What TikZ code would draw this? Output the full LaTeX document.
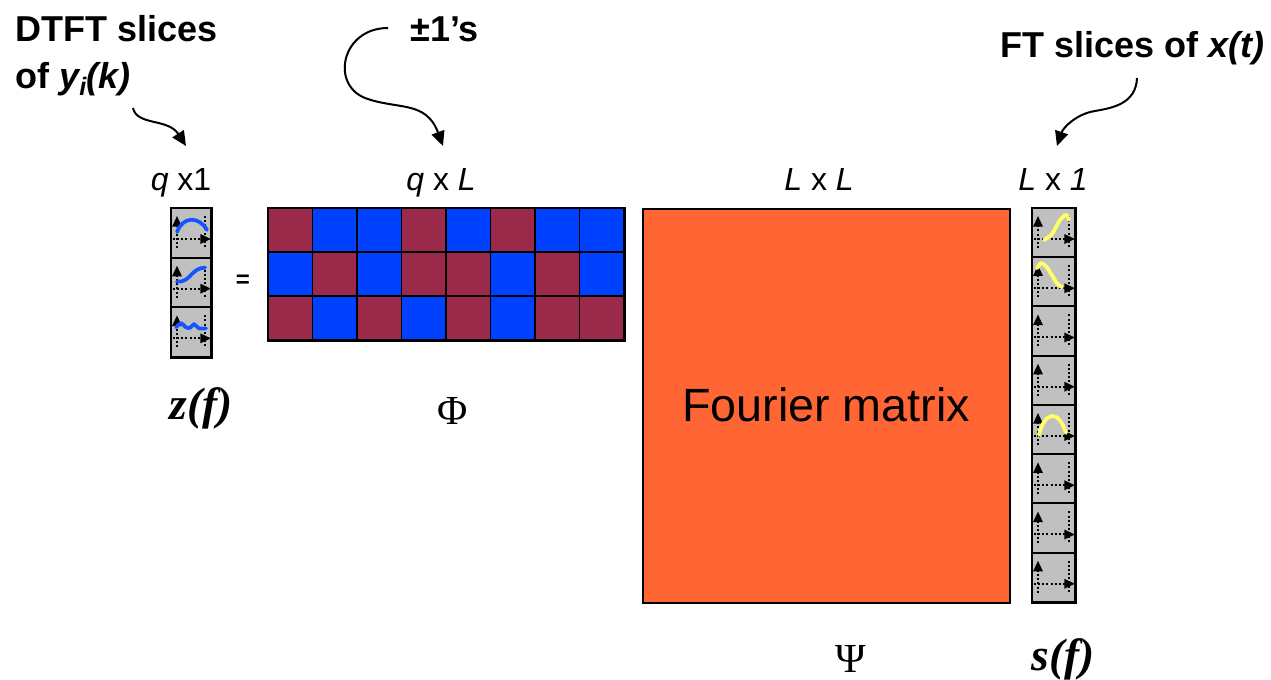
\documentclass[tikz,border=0pt]{standalone}
\usepackage{fontspec}
\setmainfont{Liberation Sans}
\newfontfamily\timesfam{Liberation Serif}
\usetikzlibrary{arrows.meta}

\definecolor{cell1}{RGB}{155,41,74}
\definecolor{cell0}{RGB}{0,64,255}
\definecolor{fourierorange}{RGB}{255,102,51}
\definecolor{slicegray}{RGB}{192,192,192}
\definecolor{curveblue}{RGB}{20,85,255}
\definecolor{curveyellow}{RGB}{255,255,102}

% dotted axes of one spectrum slice, placed at the cell's top-left corner
\newcommand\axesicon[3]{%
  \begin{scope}[shift={(#1,#2)}]
    \draw[axisline,-{Triangle[length=8pt,width=7pt]}] (6,40) -- (6,8);
    \draw[axisline,-{Triangle[length=8pt,width=7pt]}] (2,31) -- (#3,31);
    \draw[axisline] (#3-6,8) -- (#3-6,40);
  \end{scope}}

\begin{document}
\begin{tikzpicture}[x=0.75pt,y=-0.75pt,
  boldlabel/.style={font=\fontsize{27}{33}\selectfont\bfseries,inner sep=0pt},
  dimlabel/.style={font=\fontsize{24}{29}\selectfont,inner sep=0pt,anchor=base},
  symlabel/.style={font=\fontsize{34}{40}\selectfont\timesfam\bfseries\itshape,inner sep=0pt,anchor=base},
  greeklabel/.style={font=\fontsize{31}{37}\selectfont\timesfam,inner sep=0pt,anchor=base},
  callout/.style={line width=1.5pt,-{Triangle[length=11pt,width=10pt]}},
  axisline/.style={line width=1.5pt,dash pattern=on 1.5pt off 1.6pt},
  slicecell/.style={fill=slicegray,draw=black,line width=1.5pt},
  bluecurve/.style={draw=curveblue,line width=2.8pt,line cap=round},
  yellowcurve/.style={draw=curveyellow,line width=2.8pt,line cap=round},
  matcell/.style={draw=black,line width=1.2pt},
]
\useasboundingbox (0,0) rectangle (1271,680);

% ---------- callout texts ----------
\node[boldlabel,anchor=base west] (dtft) at (15,42) {DTFT slices};
\node[boldlabel,anchor=base west] (ofy) at (15,89)
  {of \textit{y\textsubscript{\textit{i}}(k)}};
\node[boldlabel,anchor=base west] (pm) at (410,42) {±1’s};
\node[boldlabel,anchor=base west] (ft) at (1000,58) {FT slices of \textit{x(t)}};

% ---------- dimension labels ----------
\node[dimlabel] (dimz) at (181,191) {\textit{q} x1};
\node[dimlabel] (dimphi) at (441,191) {\textit{q} x \textit{L}};
\node[dimlabel] (dimpsi) at (819,191) {\textit{L} x \textit{L}};
\node[dimlabel] (dims) at (1053,191) {\textit{L} x \textit{1}};

% ---------- callout arrows ----------
\coordinate (ofyend) at (133,108);
\coordinate (pmend) at (388,28);
\coordinate (ftend) at (1137,78);
\coordinate (ztip) at (186,146);
\coordinate (phitip) at (443,146);
\coordinate (stip) at (1057,146);
\draw[callout] (ofyend) .. controls (137,126) and (168,118) .. (ztip);
\draw[callout] (pmend) .. controls (342,28) and (330,84) .. (365,98)
  .. controls (397,110) and (426,100) .. (phitip);
\draw[callout] (ftend) .. controls (1136,104) and (1112,108) .. (1095,111)
  .. controls (1076,114) and (1063,128) .. (stip);

% ---------- z(f): q x 1 column of slices ----------
\node[minimum width=30pt,minimum height=111.75pt,
      inner sep=0pt,anchor=north west] (zvec) at (171,208) {};
\foreach \k in {0,1,2}{
  \draw[slicecell] (171,208+49.67*\k) rectangle (211,208+49.67*\k+49.67);
  \axesicon{171}{208+49.67*\k}{40}
}
\draw[line width=2.2pt] (zvec.north west) rectangle (zvec.south east);
\begin{scope}[shift={(171,208)}]
  \draw[bluecurve] (6,24) .. controls (12,8) and (28,8) .. (36,22);
\end{scope}
\begin{scope}[shift={(171,257.67)}]
  \draw[bluecurve] (6,24) .. controls (20,25) and (20,10) .. (34,10);
\end{scope}
\begin{scope}[shift={(171,307.33)}]
  \draw[bluecurve] plot[smooth] coordinates
    {(5,20) (10,16) (15,20) (19,20.5) (23,17) (28,21) (35,21)};
\end{scope}
\node[symlabel] (zf) at (201,420) {z(f)};

% ---------- equals sign ----------
\node[font=\fontsize{18}{22}\selectfont\bfseries,inner sep=0pt] (eq) at (243,281) {=};

% ---------- Phi: q x L matrix of +-1 entries ----------
\node[minimum width=267pt,minimum height=99pt,inner sep=0pt,
      anchor=north west] (phi) at (268,208) {};
\foreach \row [count=\r from 0] in
  {{1,0,0,1,0,1,0,0},{0,1,0,1,1,0,1,0},{1,0,1,0,1,0,1,1}}{
  \foreach \v [count=\c from 0] in \row{
    \fill[cell\v] (268+44.5*\c,208+44*\r) rectangle (312.5+44.5*\c,252+44*\r);
  }
}
\foreach \c in {1,...,7}{\draw[matcell] (268+44.5*\c,208) -- (268+44.5*\c,340);}
\foreach \r in {1,2}{\draw[matcell] (268,208+44*\r) -- (624,208+44*\r);}
\draw[line width=1.6pt] (phi.north west) rectangle (phi.south east);
\node[greeklabel] (philab) at (453,425) {Φ};

% ---------- Psi: L x L Fourier matrix ----------
\node[fill=fourierorange,draw=black,line width=1.2pt,minimum width=275.25pt,
      minimum height=295.5pt,inner sep=0pt,anchor=north west] (psi) at (642,208) {};
\node[font=\fontsize{35}{42}\selectfont,inner sep=0pt,anchor=base] (psitext)
  at (826,422) {Fourier matrix};
\node[greeklabel] (psilab) at (851,672) {Ψ};

% ---------- s(f): L x 1 column of slices ----------
\node[minimum width=32.25pt,minimum height=295.5pt,inner sep=0pt,
      anchor=north west] (svec) at (1032,208) {};
\foreach \k in {0,...,7}{
  \draw[slicecell] (1032,208+49.25*\k) rectangle (1075,208+49.25*\k+49.25);
  \axesicon{1032}{208+49.25*\k}{43}
}
\draw[line width=2.2pt] (svec.north west) rectangle (svec.south east);
\begin{scope}[shift={(1032,208)}]
  \draw[yellowcurve] plot[smooth] coordinates
    {(12,32) (20,26) (28,12) (34,7) (37,12)};
\end{scope}
\begin{scope}[shift={(1032,257.25)}]
  \draw[yellowcurve] plot[smooth] coordinates
    {(5,11) (9,6) (14,9) (20,18) (25,26) (30,30)};
\end{scope}
\begin{scope}[shift={(1032,405)}]
  \draw[yellowcurve] (7,30) .. controls (13,5) and (27,5) .. (34,28);
\end{scope}
\node[symlabel] (sf) at (1063,670) {s(f)};

\end{tikzpicture}
\end{document}
